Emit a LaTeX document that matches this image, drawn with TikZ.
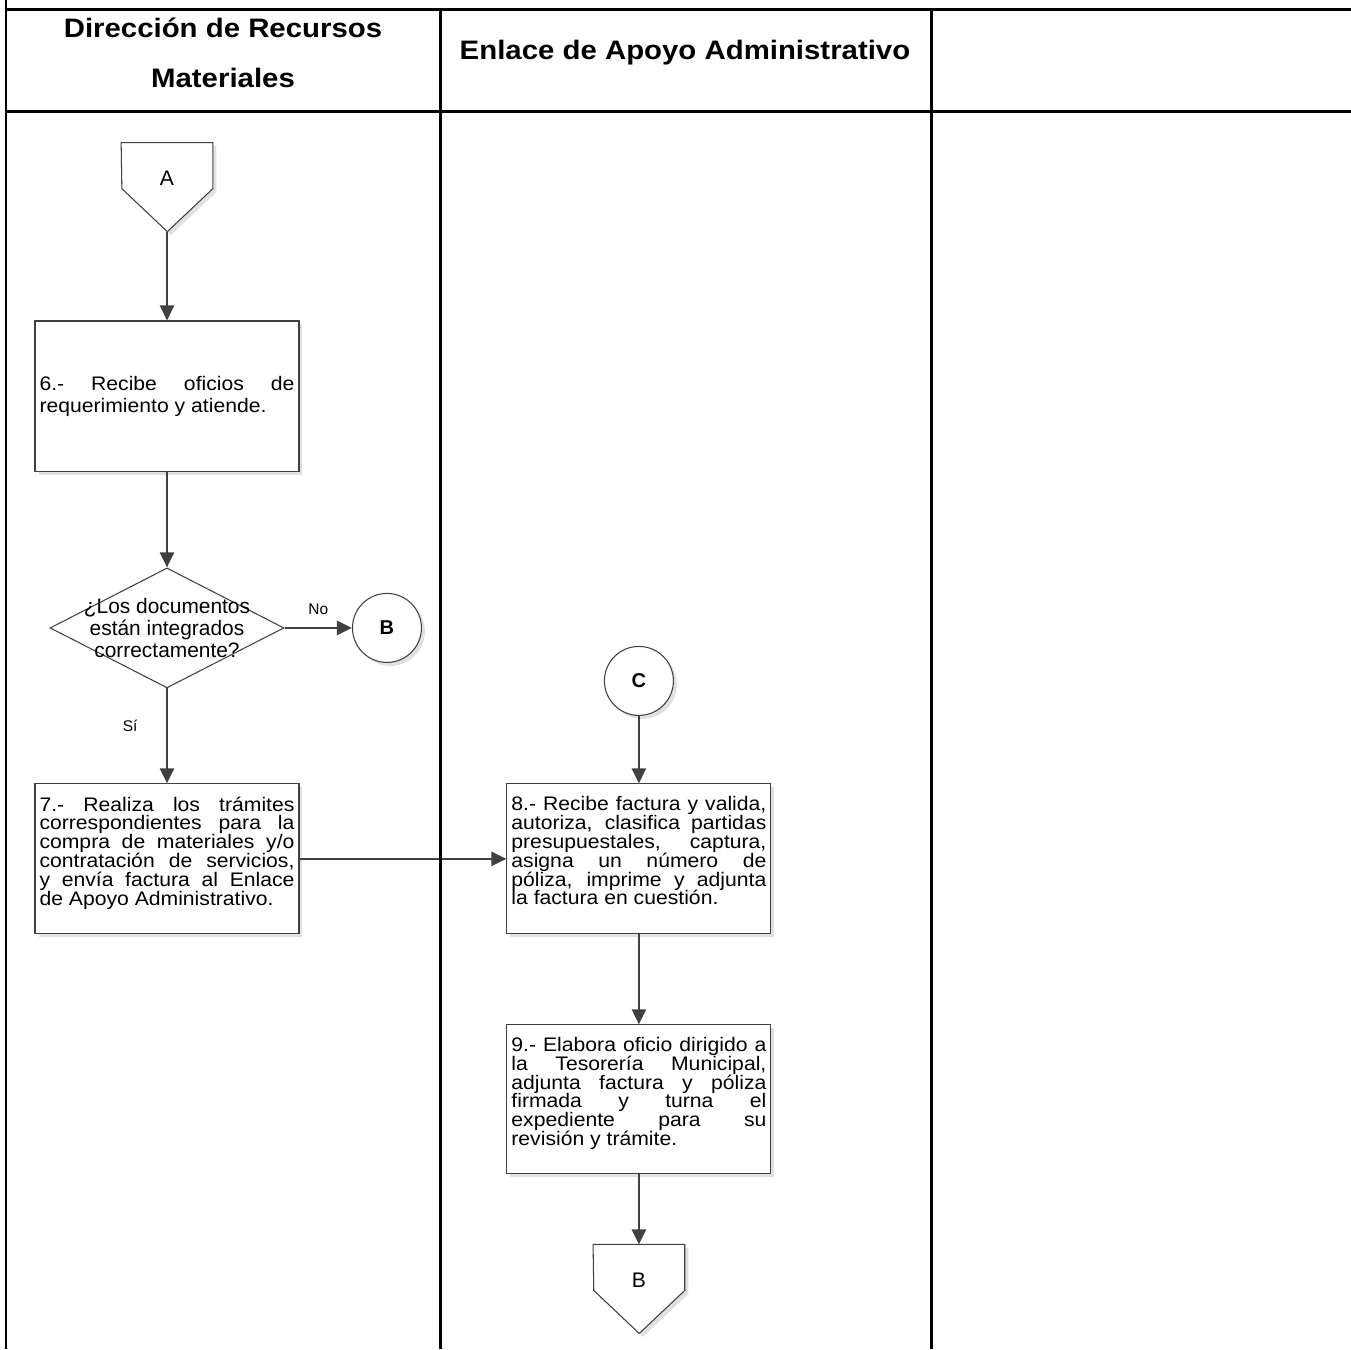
\documentclass[tikz,border=0pt]{standalone}
\usepackage{fontspec}
\setmainfont{Liberation Sans}
\newfontfamily\boxfont[FakeStretch=1.08]{Liberation Sans}
\newfontfamily\headfont[FakeStretch=1.1]{Liberation Sans}
\usetikzlibrary{arrows.meta, backgrounds, positioning, shadows, shapes.geometric}
\hyphenpenalty=10000
\tolerance=9999
\lineskiplimit=-\maxdimen

\begin{document}
\begin{tikzpicture}[
        x = 0.02cm, y = -0.02cm,
        node distance = 4cm, on grid,
        >= {Triangle[length = 0.3cm, width = 0.28cm]},
        flow/.style = {->, color = black!75, line width = 0.05cm},
        lane/.style = {line width = 0.06cm, black},
        soft shadow/.style = {drop shadow = {shadow xshift = 0.07cm, shadow yshift = -0.07cm, fill = black, opacity = 0.12}},
        task/.style = {rectangle, draw = black!75, line width = 0.6pt, fill = white, soft shadow,
            text width = 5.1cm, inner xsep = 0.09cm, minimum height = 3cm, align = justify,
            font = \boxfont\fontsize{11.15}{10.7}\selectfont},
        raised text/.style = {execute at end node = {\rule[-0.32cm]{0pt}{0pt}}},
        decision/.style = {diamond, draw = black!75, line width = 0.6pt, fill = white, inner sep = 0pt,
            minimum width = 4.68cm, minimum height = 2.4cm},
        onpage/.style = {circle, draw = black!75, line width = 0.6pt, fill = white, soft shadow,
            minimum size = 1.38cm, font = \bfseries\fontsize{11.4}{13}\selectfont},
        offpage/.style = {inner sep = 0pt, minimum width = 1.82cm, minimum height = 1.4cm,
            font = \fontsize{12}{14}\selectfont},
        pentagon/.style = {draw = black!75, line width = 0.6pt, fill = white, soft shadow},
        head/.style = {align = center, font = \headfont\bfseries\fontsize{15.2}{28.5}\selectfont},
        tag/.style = {text = black, font = \fontsize{8.8}{10}\selectfont}
    ]
      \useasboundingbox (0, 0) rectangle (1351, 1349);

      \node[head] (hdrDRM) at (223, 53) {Dirección de Recursos\\Materiales};
      \node[head] (hdrEAA) at (685, 53) {Enlace de Apoyo Administrativo};

      \node[offpage] (offA) at (167, 178) {A};
      \node[task, minimum height = 3.02cm, font = \boxfont\fontsize{11.15}{12.5}\selectfont] (box6) [below = 4.37cm of offA]
          {6.- Recibe oficios de\linebreak requerimiento y atiende.};
      \node[decision, label = {[align = center, font = \fontsize{11.9}{12.5}\selectfont]center:¿Los documentos\\están integrados\\correctamente?}] (dec) [below = 4.63cm of box6] {};
      \node[onpage] (circB) [right = 4.4cm of dec] {B};
      \node[task, raised text] (box7) [below = 4.62cm of dec]
          {7.- Realiza los trámites\linebreak correspondientes para la\linebreak compra de materiales y/o\linebreak contratación de servicios,\linebreak y envía factura al Enlace\linebreak de Apoyo Administrativo.};
      \node[task, raised text] (box8) [right = 9.44cm of box7]
          {8.- Recibe factura y valida,\linebreak autoriza, clasifica partidas\linebreak presupuestales, captura,\linebreak asigna un número de\linebreak póliza, imprime y adjunta\linebreak la factura en cuestión.};
      \node[onpage] (circC) [above = 3.56cm of box8] {C};
      \node[task, raised text, minimum height = 2.98cm] (box9) [below = 4.81cm of box8]
          {9.- Elabora oficio dirigido a\linebreak la Tesorería Municipal,\linebreak adjunta factura y póliza\linebreak firmada y turna el\linebreak expediente para su\linebreak revisión y trámite.};
      \node[offpage] (offB) [below = 3.61cm of box9] {B};

      \begin{scope}[on background layer]
        \draw[pentagon] (offA.north west) -- (offA.north east) -- ++(0, 46) -- ++(-45.5, 43) -- ++(-45.5, -43) -- cycle;
        \draw[pentagon] (offB.north west) -- (offB.north east) -- ++(0, 46) -- ++(-45.5, 43) -- ++(-45.5, -43) -- cycle;
      \end{scope}
      \coordinate (tipA) at ([yshift = -1.78cm] offA.north);

      \path[flow] (tipA) edge (box6)
                  (box6) edge (dec)
                  (dec) edge node[tag, above = 0.12cm] {No} (circB)
                  (dec) edge node[tag, left = 0.45cm, pos = 0.39] {Sí} (box7)
                  (box7) edge (box8)
                  (circC) edge (box8)
                  (box8) edge (box9)
                  (box9) edge (offB);

      \draw[lane] (6, 0) -- (6, 1349)
                  (6, 9) -- (1351, 9)
                  (6, 111) -- (1351, 111)
                  (440, 9) -- (440, 1349)
                  (931, 9) -- (931, 1349);
    \end{tikzpicture}
\end{document}
